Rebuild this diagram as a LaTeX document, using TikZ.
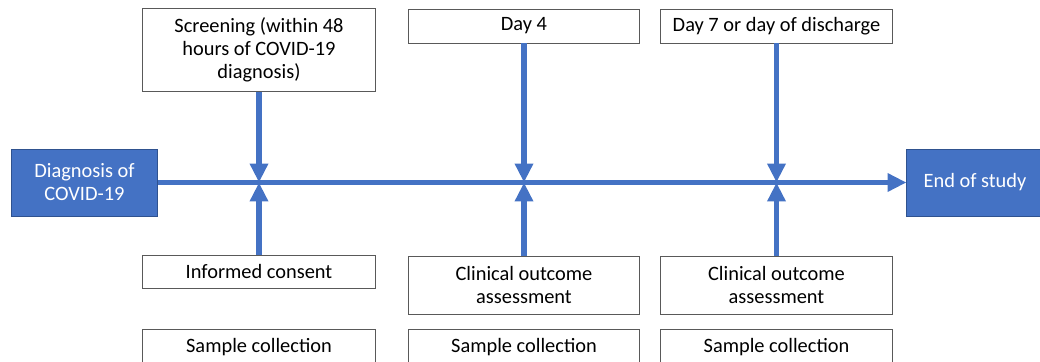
\documentclass[tikz,border=0pt]{standalone}
\usepackage{fontspec}
\setmainfont{Carlito}
\usetikzlibrary{arrows.meta}
\definecolor{flowblue}{HTML}{4472C4}
\definecolor{flowedge}{HTML}{2F528F}
\tikzset{
  stagebox/.style={draw=black!65, line width=0.7pt, fill=white, align=center, inner sep=2pt,
    font=\fontsize{14.5}{16.4}\selectfont},
  termbox/.style={draw=flowedge, line width=0.7pt, fill=flowblue, text=white, align=center,
    inner sep=2pt, font=\fontsize{14.5}{16.4}\selectfont},
  timeline/.style={flowblue, line width=3.6pt},
  tip/.style={-{Triangle[length=13.5pt, width=12.5pt]}}
}
\begin{document}
\begin{tikzpicture}[x=0.025cm, y=-0.025cm]
        \useasboundingbox (0,0) rectangle (1040,362);

        \coordinate (M1) at (259,182.5);
        \coordinate (M2) at (524,182.5);
        \coordinate (M3) at (776.5,182.5);

        \node[termbox, minimum width=3.625cm, minimum height=1.675cm] (diag) at (84.5,182.5) {Diagnosis of\\COVID-19};
        \node[termbox, minimum width=3.4cm, minimum height=1.675cm] (end) at (975,182.5) {End of study};

        \node[stagebox, minimum width=5.8cm, minimum height=2.05cm] (scr) at (259,50) {Screening (within 48\\hours of COVID-19\\diagnosis)};
        \node[stagebox, minimum width=5.75cm, minimum height=0.85cm] (day4) at (524,26) {Day 4};
        \node[stagebox, minimum width=5.775cm, minimum height=0.85cm] (day7) at (776.5,26) {Day 7 or day of discharge};

        \node[stagebox, minimum width=5.8cm, minimum height=0.825cm] (cons) at (259,271.5) {Informed consent};
        \node[stagebox, minimum width=5.75cm, minimum height=1.45cm] (out4) at (524,285) {Clinical outcome\\assessment};
        \node[stagebox, minimum width=5.775cm, minimum height=1.45cm] (out7) at (776.5,285) {Clinical outcome\\assessment};

        \node[stagebox, minimum width=5.8cm, minimum height=0.9cm] (samp1) at (259,347) {Sample collection};
        \node[stagebox, minimum width=5.75cm, minimum height=0.9cm] (samp4) at (524,347) {Sample collection};
        \node[stagebox, minimum width=5.775cm, minimum height=0.9cm] (samp7) at (776.5,347) {Sample collection};

        \draw[timeline, tip] (diag.east) -- (end.west);

        \draw[timeline, tip] (scr.south) -- (M1);
        \draw[timeline, tip] (cons.north) -- (M1);
        \draw[timeline, tip] (day4.south) -- (M2);
        \draw[timeline, tip] (out4.north) -- (M2);
        \draw[timeline, tip] (day7.south) -- (M3);
        \draw[timeline, tip] (out7.north) -- (M3);
    \end{tikzpicture}
\end{document}
